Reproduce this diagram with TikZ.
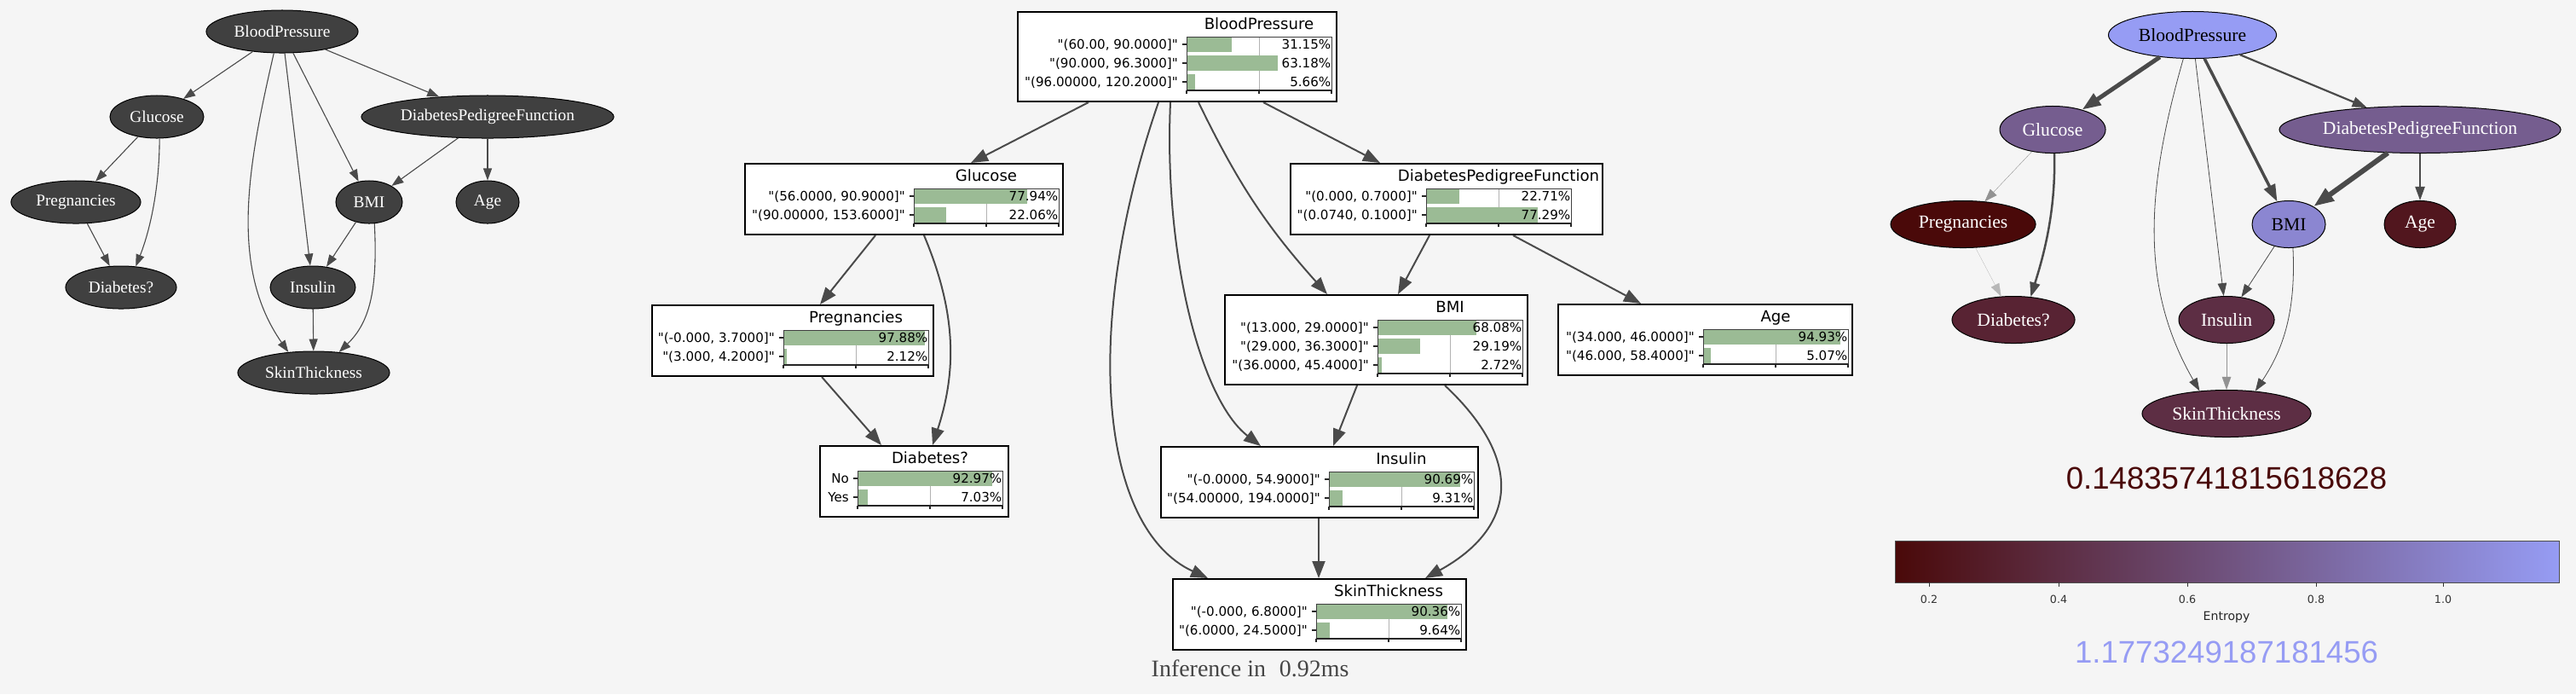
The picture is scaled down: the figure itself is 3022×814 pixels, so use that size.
\documentclass[tikz,border=0pt]{standalone}
\usepackage{fontspec}
\usetikzlibrary{shapes.geometric,arrows.meta,fit,calc}
\newfontfamily\gvfont{Liberation Serif}
\newfontfamily\mplfont{DejaVu Sans}
\newfontfamily\numfont{Liberation Sans}

\definecolor{bg}{HTML}{F5F5F5}
\definecolor{gvgray}{HTML}{404040}
\definecolor{edgegray}{HTML}{4A4A4A}
\definecolor{barfill}{HTML}{9BBB95}
\definecolor{entlow}{HTML}{4A0909}
\definecolor{enthigh}{HTML}{969CF4}
\definecolor{infgray}{HTML}{454545}

\pgfdeclarehorizontalshading{entropy}{100bp}{color(0bp)=(entlow); color(25bp)=(entlow); color(75bp)=(enthigh); color(100bp)=(enthigh)}

\tikzset{
  lnode/.style={ellipse, draw=black, line width=0.01cm, fill=gvgray, text=white,
    inner sep=0, minimum height=0.5cm, font=\gvfont\fontsize{5.5pt}{6pt}\selectfont},
  rnode/.style={ellipse, draw=black, line width=0.01cm, inner sep=0,
    minimum height=0.55cm, font=\gvfont\fontsize{6.15pt}{7pt}\selectfont},
  ledge/.style={draw=edgegray, line width=0.011cm, -{Triangle[length=0.14cm,width=0.1cm]}},
  redge/.style n args={3}{draw=#1, line width=#2, -{Triangle[length=#3,width=0.7*#3]}},
  medge/.style={draw=edgegray, line width=0.02cm, -{Triangle[length=0.2cm,width=0.15cm]}},
  cptframe/.style={rectangle, draw=black, line width=0.02cm, fill=white, inner sep=0},
  cpttitle/.style={inner sep=0, font=\mplfont\fontsize{5.15pt}{6pt}\selectfont},
  cptlabel/.style={inner sep=0, font=\mplfont\fontsize{4.3pt}{5pt}\selectfont},
  gridline/.style={draw=black!30, line width=0.008cm},
  axisline/.style={draw=black!85, line width=0.012cm},
  chartedge/.style={draw=black!75, line width=0.01cm},
}

% #1 name, #2 left, #3 top, #4 right, #5 chart left, #6 rows, #7 title, #8 label/percent list
\newcommand{\cpt}[8]{%
  \pgfmathsetmacro{\cptL}{#5}%
  \pgfmathsetmacro{\cptR}{#5+170}%
  \pgfmathsetmacro{\cptM}{#5+85}%
  \pgfmathsetmacro{\cptT}{#3+29}%
  \pgfmathsetmacro{\cptB}{#3+26+22*#6}%
  \node[cptframe, fit={(#2,#3) (#4,#3+39+22*#6)}] (#1) {};
  \node[cpttitle, anchor=base] at (\cptM,#3+20.5) {#7};
  \fill[white] (\cptL,\cptT) rectangle (\cptR,\cptB);
  \draw[gridline] (\cptM,\cptT) -- (\cptM,\cptB);
  \foreach \lab/\pct [count=\i from 0] in {#8} {
    \pgfmathsetmacro{\cptY}{#3+38+22*\i}
    \fill[barfill] (\cptL,\cptY-8.8) rectangle ({\cptL+1.7*\pct},\cptY+8.8);
    \draw[axisline] (\cptL-5,\cptY) -- (\cptL,\cptY);
    \node[cptlabel, anchor=base east] at (\cptL-9.5,\cptY+5.7) {\lab};
    \node[cptlabel, anchor=base east] at (\cptR,\cptY+5.7) {\pct\%};
  }
  \draw[chartedge] (\cptL,\cptB) -- (\cptL,\cptT) -- (\cptR,\cptT) -- (\cptR,\cptB);
  \draw[axisline] (\cptL,\cptB) -- (\cptR,\cptB);
  \foreach \tx in {\cptL,\cptM,\cptR} \draw[axisline] (\tx,\cptB) -- (\tx,\cptB+4);
}

\begin{document}
\begin{tikzpicture}[x=0.01cm,y=-0.01cm]
  \useasboundingbox (0,0) rectangle (3022,814);
  \fill[bg] (0,0) rectangle (3022,814);

  % structure graph
  \node[lnode, minimum width=1.78cm] (lbp) at (331,37) {BloodPressure};
  \node[lnode, minimum width=1.10cm] (lglu) at (184,137) {Glucose};
  \node[lnode, minimum width=2.96cm] (ldpf) at (572,137) {DiabetesPedigreeFunction};
  \node[lnode, minimum width=1.52cm] (lpreg) at (89,237) {Pregnancies};
  \node[lnode, minimum width=0.78cm] (lbmi) at (433,237) {BMI};
  \node[lnode, minimum width=0.74cm] (lage) at (572,237) {Age};
  \node[lnode, minimum width=1.30cm] (ldia) at (142,337) {Diabetes?};
  \node[lnode, minimum width=1.00cm] (lins) at (367,337) {Insulin};
  \node[lnode, minimum width=1.78cm] (lst) at (368,437) {SkinThickness};

  \draw[ledge] (lbp) -- (lglu);
  \draw[ledge] (lbp) -- (ldpf);
  \draw[ledge] (lbp) -- (lbmi);
  \draw[ledge] (lbp) -- (lins);
  \draw[ledge] (lbp.-111) .. controls +(-30,130) and +(-70,-100) .. (lst.141);
  \draw[ledge] (lglu) -- (lpreg);
  \draw[ledge] (lglu.-83) .. controls +(0,60) and +(16,-40) .. (ldia.55);
  \draw[ledge] (lpreg) -- (ldia);
  \draw[ledge] (ldpf) -- (lbmi);
  \draw[ledge] (ldpf) -- (lage);
  \draw[ledge] (lbmi) -- (lins);
  \draw[ledge] (lbmi.-76) .. controls +(4,78) and +(36,-35) .. (lst.39);
  \draw[ledge] (lins) -- (lst);

  % inference boxes
  \cpt{mbp}{1194}{14}{1568}{1392}{3}{BloodPressure}{{"(60.00, 90.0000]"}/31.15,{"(90.000, 96.3000]"}/63.18,{"(96.00000, 120.2000]"}/5.66}
  \cpt{mglu}{874}{192}{1247}{1072}{2}{Glucose}{{"(56.0000, 90.9000]"}/77.94,{"(90.00000, 153.6000]"}/22.06}
  \cpt{mdpf}{1514}{192}{1880}{1673}{2}{DiabetesPedigreeFunction}{{"(0.000, 0.7000]"}/22.71,{"(0.0740, 0.1000]"}/77.29}
  \cpt{mpreg}{765}{358}{1095}{919}{2}{Pregnancies}{{"(-0.000, 3.7000]"}/97.88,{"(3.000, 4.2000]"}/2.12}
  \cpt{mbmi}{1437}{346}{1792}{1616}{3}{BMI}{{"(13.000, 29.0000]"}/68.08,{"(29.000, 36.3000]"}/29.19,{"(36.0000, 45.4000]"}/2.72}
  \cpt{mage}{1828}{357}{2173}{1998}{2}{Age}{{"(34.000, 46.0000]"}/94.93,{"(46.000, 58.4000]"}/5.07}
  \cpt{mdia}{962}{523}{1183}{1006}{2}{Diabetes?}{No/92.97,Yes/7.03}
  \cpt{mins}{1362}{524}{1734}{1559}{2}{Insulin}{{"(-0.0000, 54.9000]"}/90.69,{"(54.00000, 194.0000]"}/9.31}
  \cpt{mst}{1376}{679}{1720}{1544}{2}{SkinThickness}{{"(-0.000, 6.8000]"}/90.36,{"(6.0000, 24.5000]"}/9.64}

  \draw[medge] ($(mbp.south west)+(84,0)$) -- ($(mglu.north west)+(266,0)$);
  \draw[medge] ($(mbp.south west)+(289,0)$) -- ($(mdpf.north west)+(106,0)$);
  \draw[medge] ($(mbp.south west)+(213,0)$) to[bend right=8] ($(mbmi.north west)+(121,0)$);
  \draw[medge] ($(mbp.south west)+(180,0)$) .. controls +(-8,181) and +(-70,-54) .. ($(mins.north west)+(118,0)$);
  \draw[medge] ($(mbp.south west)+(166,0)$) .. controls +(-90,261) and +(-128,-59) .. ($(mst.north west)+(42,0)$);
  \draw[medge] ($(mglu.south west)+(154,0)$) -- ($(mpreg.north west)+(198,0)$);
  \draw[medge] ($(mglu.south west)+(211,0)$) .. controls +(40,95) and +(27,-83) .. ($(mdia.north west)+(133,0)$);
  \draw[medge] ($(mpreg.south west)+(200,0)$) -- ($(mdia.north west)+(73,0)$);
  \draw[medge] ($(mdpf.south west)+(164,0)$) -- ($(mbmi.north west)+(204,0)$);
  \draw[medge] ($(mdpf.south west)+(262,0)$) -- ($(mage.north west)+(98,0)$);
  \draw[medge] ($(mbmi.south west)+(156,0)$) -- ($(mins.north west)+(203,0)$);
  \draw[medge] ($(mbmi.south west)+(259,0)$) .. controls +(94,88) and +(107,-59) .. ($(mst.north west)+(297,0)$);
  \draw[medge] ($(mins.south west)+(186,0)$) -- ($(mst.north west)+(172,0)$);

  \node[anchor=base west, inner sep=0, text=infgray, font=\gvfont\fontsize{7.95pt}{9pt}\selectfont]
    (inftime) at (1350,793) {Inference in\hspace{0.16cm}0.92ms};

  % entropy graph
  \node[rnode, minimum width=1.97cm, fill=enthigh, text=black] (rbp) at (2572,41) {BloodPressure};
  \node[rnode, minimum width=1.24cm, fill=enthigh!57!entlow, text=white] (rglu) at (2408,152) {Glucose};
  \node[rnode, minimum width=3.30cm, fill=enthigh!57!entlow, text=white] (rdpf) at (2839,152) {DiabetesPedigreeFunction};
  \node[rnode, minimum width=1.70cm, fill=entlow, text=white] (rpreg) at (2303,263) {Pregnancies};
  \node[rnode, minimum width=0.86cm, fill=enthigh!85!entlow, text=black] (rbmi) at (2685,263) {BMI};
  \node[rnode, minimum width=0.84cm, fill=enthigh!9!entlow, text=white] (rage) at (2839,263) {Age};
  \node[rnode, minimum width=1.44cm, fill=enthigh!18!entlow, text=white] (rdia) at (2362,375) {Diabetes?};
  \node[rnode, minimum width=1.12cm, fill=enthigh!25!entlow, text=white] (rins) at (2612,375) {Insulin};
  \node[rnode, minimum width=1.98cm, fill=enthigh!25!entlow, text=white] (rst) at (2612,485) {SkinThickness};

  \draw[redge={edgegray}{0.05cm}{0.22cm}] (rbp) -- (rglu);
  \draw[redge={edgegray}{0.022cm}{0.17cm}] (rbp) -- (rdpf);
  \draw[redge={edgegray}{0.035cm}{0.2cm}] (rbp) -- (rbmi);
  \draw[redge={edgegray}{0.008cm}{0.15cm}] (rbp) -- (rins);
  \draw[redge={edgegray}{0.008cm}{0.15cm}] (rbp.-111) .. controls +(-46,160) and +(-68,-118) .. (rst.140);
  \draw[redge={edgegray!60}{0.004cm}{0.15cm}] (rglu) -- (rpreg);
  \draw[redge={edgegray}{0.025cm}{0.17cm}] (rglu.-86) .. controls +(2,70) and +(14,-45) .. (rdia.53);
  \draw[redge={edgegray!40}{0.003cm}{0.15cm}] (rpreg) -- (rdia);
  \draw[redge={edgegray}{0.06cm}{0.24cm}] (rdpf) -- (rbmi);
  \draw[redge={edgegray}{0.015cm}{0.16cm}] (rdpf) -- (rage);
  \draw[redge={edgegray}{0.008cm}{0.15cm}] (rbmi) -- (rins);
  \draw[redge={edgegray}{0.008cm}{0.15cm}] (rbmi.-80) .. controls +(4,80) and +(30,-45) .. (rst.38);
  \draw[redge={edgegray!60}{0.004cm}{0.15cm}] (rins) -- (rst);

  \node[anchor=base, inner sep=0, text=entlow, font=\numfont\fontsize{10.4pt}{12pt}\selectfont]
    (entmin) at (2612,573) {0.14835741815618628};
  \shade[shading=entropy] (2223,634) rectangle (3002,683);
  \draw[draw=black!70, line width=0.01cm] (2223,634) rectangle (3002,683);
  \foreach \tx/\tv in {2263/0.2, 2415/0.4, 2566/0.6, 2717/0.8, 2866/1.0} {
    \draw[draw=black!80, line width=0.01cm] (\tx,683) -- (\tx,688);
    \node[anchor=base, inner sep=0, text=black!80, font=\mplfont\fontsize{3.6pt}{4pt}\selectfont] at (\tx,707) {\tv};
  }
  \node[anchor=base, inner sep=0, text=black!85, font=\mplfont\fontsize{4pt}{5pt}\selectfont] (entlabel) at (2612,727) {Entropy};
  \node[anchor=base, inner sep=0, text=enthigh, font=\numfont\fontsize{10.4pt}{12pt}\selectfont]
    (entmax) at (2612,777) {1.1773249187181456};
\end{tikzpicture}
\end{document}
